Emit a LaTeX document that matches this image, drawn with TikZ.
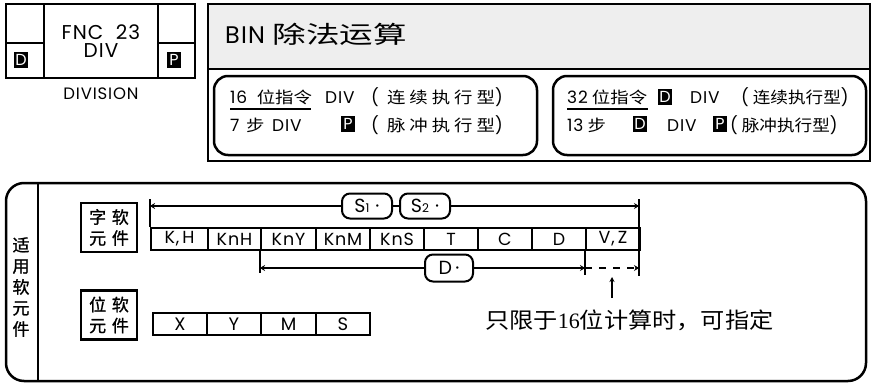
\documentclass[tikz,border=0pt]{standalone}
\usepackage{fontspec}
\setmainfont{Poppins}[LetterSpace=5]
\newfontfamily\cjk{Noto Sans CJK SC}
\newfontfamily\cjkbold[FakeBold=1.2]{Noto Sans CJK SC}
\newfontfamily\cjkt[FakeStretch=1.4]{Noto Sans CJK SC}
\newfontfamily\cjkb[FakeStretch=1.15]{Noto Sans CJK SC}
\newfontfamily\cjkm[FakeStretch=1.1]{Noto Sans CJK SC}
\newfontfamily\cjkbs[FakeStretch=1.15,LetterSpace=25]{Noto Sans CJK SC}
\newfontfamily\serifnum{Liberation Serif}
\usetikzlibrary{arrows.meta}
\newcommand\fsz[1]{\fontsize{#1}{#1}\selectfont}
\definecolor{titlegray}{RGB}{238,238,238}
\tikzset{
  frame/.style={draw, line width=2.5pt},
  cell/.style={draw, line width=2pt, minimum height=22pt, inner sep=0pt, anchor=west, font=\fsz{17.5}},
  lbl/.style={draw, line width=2pt, rounded corners=8pt, minimum height=25pt, inner sep=0pt, font=\fsz{19}},
  arr/.style={line width=1.8pt, -{Stealth[length=5pt,width=6pt]}},
  ln/.style={line width=1.8pt},
  badge/.style={fill=black, text=white, inner sep=0pt, minimum width=14pt, minimum height=16pt, font=\fsz{16}},
  txt/.style={anchor=base west, inner sep=0pt},
  devbox/.style={draw, line width=2.5pt, minimum width=56pt, minimum height=49pt, inner sep=0pt, align=center, font=\cjkbold\fsz{17}},
}
\begin{document}
\begin{tikzpicture}[x=1pt,y=-1pt]
\path[use as bounding box] (0,0) rectangle (871,383);

% FNC box
\node[frame, minimum width=189pt, minimum height=74pt, inner sep=0pt] (fnc) at (100.5,41) {};
\draw[frame] (44,4) -- (44,78) (158,4) -- (158,78) (6,43) -- (44,43) (158,43) -- (195,43);
\node[inner sep=0pt, font=\fsz{20}] (fncno) at (101,32) {FNC\ \ 23};
\node[inner sep=0pt, font=\fsz{20}] (fncdiv) at (101,50.5) {DIV};
\node[badge] (fncD) at (21,60) {D};
\node[badge] (fncP) at (174,60) {P};
\node[inner sep=0pt, font=\fsz{16.5}] (division) at (101,93.5) {DIVISION};

% Title box
\fill[titlegray] (208,4) rectangle (870,69);
\node[frame, minimum width=662pt, minimum height=157pt, inner sep=0pt] (titlebox) at (539,82.5) {};
\draw[frame] (208,69) -- (870,69);
\node[txt, font=\fsz{24}] (title) at (225,43) {BIN {\cjkt 除法运算}};

% Rounded box 1
\draw[frame, rounded corners=14pt] (214,76) rectangle (537,155);
\node[txt, font=\fsz{17}] (b1a) at (230,103) {16 {\cjkb\fsz{16} 位指令}};
\node[txt, font=\fsz{17}] (b1b) at (325,103) {DIV};
\node[txt, font=\fsz{17}] (b1c) at (371,103) {({\cjkbs\fsz{16} 连续执行型})};
\node[txt, font=\fsz{17}] (b1d) at (230,131) {7};
\node[txt, font=\cjkb\fsz{16}] (b1d2) at (246,131) {步};
\node[txt, font=\fsz{17}] (b1e) at (272,131) {DIV};
\node[badge] (b1P) at (348,124) {P};
\node[txt, font=\fsz{17}] (b1f) at (371,131) {({\cjkbs\fsz{16} 脉冲执行型})};
\draw[line width=1.6pt] (230,109) -- (311,109);

% Rounded box 2
\draw[frame, rounded corners=14pt] (553,76) rectangle (866,155);
\node[txt, font=\fsz{17}] (b2a) at (567,103) {32{\cjkb\fsz{16} 位指令}};
\node[badge] (b2D) at (665,97) {D};
\node[txt, font=\fsz{17}] (b2b) at (690,103) {DIV};
\node[txt, font=\fsz{17}] (b2c) at (741,103) {({\cjkm\fsz{16} 连续执行型})};
\node[txt, font=\fsz{17}] (b2d) at (567,131) {13{\cjkb\fsz{16} 步}};
\node[badge] (b2D2) at (640,124) {D};
\node[txt, font=\fsz{17}] (b2e) at (667,131) {DIV};
\node[badge] (b2P) at (720,124) {P};
\node[txt, font=\fsz{17}] (b2f) at (730,131) {({\cjkm\fsz{16} 脉冲执行型})};
\draw[line width=1.6pt] (567,109) -- (648,109);

% Bottom box
\draw[frame, rounded corners=18pt] (6,183) rectangle (866,381);
\draw[frame] (38,183) -- (38,381);
\node[inner sep=0pt, align=center, font=\cjkbold\fsz{17}] (applic) at (21,287) {适\\[4pt]用\\[4pt]软\\[4pt]元\\[4pt]件};

\node[devbox] (wordbox) at (109,227.5) {字\,\,软\\[4pt]元\,\,件};
\node[devbox] (bitbox) at (109,315) {位\,\,软\\[4pt]元\,\,件};

% word devices
\node[cell, minimum width=57pt] (w1) at (150,239) {K,\,H};
\node[cell, minimum width=53pt] (w2) at (207,239) {KnH};
\node[cell, minimum width=55pt] (w3) at (260,239) {KnY};
\node[cell, minimum width=54pt] (w4) at (315,239) {KnM};
\node[cell, minimum width=54pt] (w5) at (369,239) {KnS};
\node[cell, minimum width=54pt] (w6) at (423,239) {T};
\node[cell, minimum width=54pt] (w7) at (477,239) {C};
\node[cell, minimum width=54pt] (w8) at (531,239) {D};
\node[cell, minimum width=54pt] (w9) at (585,239) {V,\,Z};

% bit devices
\node[cell, minimum width=54pt, font=\fsz{18}] (x1) at (152,324) {X};
\node[cell, minimum width=54pt, font=\fsz{18}] (x2) at (206,324) {Y};
\node[cell, minimum width=55pt, font=\fsz{18}] (x3) at (260,324) {M};
\node[cell, minimum width=54pt, font=\fsz{18}] (x4) at (315,324) {S};

% S1 S2 labels
\node[lbl, minimum width=50pt] (s1) at (367,206) {S{\fsz{12}1}\ \textperiodcentered};
\node[lbl, minimum width=50pt] (s2) at (425,206) {S{\fsz{12}2}\ \textperiodcentered};
\node[lbl, minimum width=48pt, minimum height=27pt] (dd) at (449,268) {D\,\textperiodcentered};

\coordinate (tl) at (150,206);
\coordinate (tltop) at (150,199);
\coordinate (tr) at (639,206);
\coordinate (trtop) at (639,199);
\coordinate (trbot) at (639,276);
\draw[ln] (tltop) -- (w1.north west);
\draw[arr] (s1) -- (tl);
\draw[ln] (s1) -- (s2);
\draw[arr] (s2) -- (tr);
\draw[ln] (trtop) -- (trbot);

\coordinate (dl) at (260,268);
\coordinate (dlbot) at (260,273);
\coordinate (dr) at (585,268);
\coordinate (drbot) at (585,275);
\coordinate (dr2) at (639,268);
\draw[ln] (w3.south west) -- (dlbot);
\draw[arr] (dd) -- (dl);
\draw[arr] (dd) -- (dr);
\draw[ln] (w9.south west) -- (drbot);
\draw[arr, dash pattern=on 7pt off 7pt] (dr) -- (dr2);

\coordinate (na) at (612,298);
\coordinate (nb) at (612,277);
\draw[line width=1.3pt, -{Stealth[length=5pt,width=5pt]}] (na) -- (nb);
\node[anchor=west, inner sep=0pt, font=\cjkm\fsz{22}] (note) at (485,320) {只限于{\serifnum 16}位计算时，可指定};
\end{tikzpicture}
\end{document}
